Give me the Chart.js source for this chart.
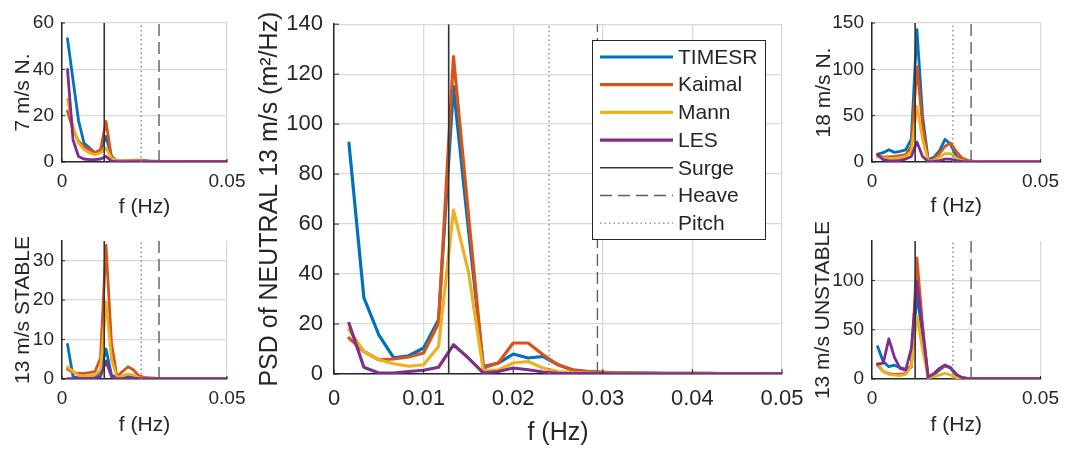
<!DOCTYPE html>
<html><head><meta charset="utf-8">
<script src="https://cdn.jsdelivr.net/npm/chart.js@4/dist/chart.umd.min.js"></script>
<style>
html,body{margin:0;padding:0;background:#fff;}
#wrap{position:relative;width:1067px;height:449px;overflow:hidden;background:#fff;}
canvas{position:absolute;left:0;top:0;}
</style></head><body>
<div id="wrap">
<canvas id="cTL" width="1067" height="449"></canvas>
<canvas id="cBL" width="1067" height="449"></canvas>
<canvas id="cTR" width="1067" height="449"></canvas>
<canvas id="cBR" width="1067" height="449"></canvas>
<canvas id="cMain" width="1067" height="449"></canvas>
</div>
<script>
// ---- data ----
const freq = [0.001667, 0.003333, 0.005, 0.006667, 0.008333, 0.01, 0.011667, 0.013333, 0.015, 0.016667,
  0.018333, 0.02, 0.021667, 0.023333, 0.025, 0.026667, 0.028333, 0.03, 0.031667, 0.033333,
  0.035, 0.036667, 0.038333, 0.04, 0.041667, 0.043333, 0.045, 0.046667, 0.048333, 0.05];
const seriesNames = ['TIMESR', 'Kaimal', 'Mann', 'LES'];
const seriesColors = ['#0072BD', '#D95319', '#EDB120', '#7E2F8E'];
const refNames = ['Surge', 'Heave', 'Pitch'];
const refFreqs = [0.0128, 0.0294, 0.024];

// NEUTRAL 13 m/s (main)
const neuTIMESR = [92.4, 30.6, 15.7, 6.5, 7.3, 10.4, 21.7, 115, 58, 3.0, 4.4, 8.0, 6.4, 7.0, 3.7, 1.7, 1.0, 0.7, 0.5, 0.4, 0.35, 0.3, 0.3, 0.25, 0.25, 0.2, 0.2, 0.2, 0.2, 0.2];
const neuKaimal = [14.4, 9.0, 5.7, 6.0, 6.8, 8.4, 20.3, 127, 64, 2.4, 4.4, 12.4, 12.4, 7.7, 3.7, 1.5, 1.0, 0.7, 0.5, 0.4, 0.35, 0.3, 0.3, 0.25, 0.25, 0.2, 0.2, 0.2, 0.2, 0.2];
const neuMann = [17.7, 9.0, 5.7, 4.1, 3.1, 3.7, 11.0, 65.6, 41, 1.3, 1.6, 4.4, 5.0, 2.4, 1.0, 0.6, 0.4, 0.3, 0.3, 0.2, 0.2, 0.2, 0.15, 0.15, 0.15, 0.15, 0.1, 0.1, 0.1, 0.1];
const neuLES = [20.3, 2.7, 0.4, 0.4, 1.0, 1.5, 2.7, 11.7, 6.4, 0.4, 1.0, 2.4, 1.7, 0.8, 0.3, 0.2, 0.2, 0.15, 0.1, 0.1, 0.1, 0.1, 0.1, 0.1, 0.1, 0.1, 0.1, 0.1, 0.1, 0.1];

// 7 m/s N.
const n7TIMESR = [53.2, 35.5, 18.0, 8.2, 6.0, 4.0, 5.0, 11.0, 2.4, 0.4, 0.4, 0.4, 0.35, 0.3, 0.3, 0.3, 0.3, 0.25, 0.25, 0.2, 0.2, 0.2, 0.2, 0.2, 0.2, 0.2, 0.2, 0.2, 0.2, 0.2];
const n7Kaimal = [22.0, 14.0, 9.0, 6.7, 5.3, 4.1, 5.3, 17.5, 2.0, 0.5, 0.5, 0.6, 0.7, 0.8, 0.7, 0.5, 0.4, 0.3, 0.3, 0.25, 0.25, 0.2, 0.2, 0.2, 0.2, 0.2, 0.2, 0.2, 0.2, 0.2];
const n7Mann = [27.0, 15.4, 8.2, 5.3, 3.9, 3.2, 3.9, 6.0, 1.7, 0.4, 0.4, 0.5, 0.5, 0.5, 0.4, 0.3, 0.3, 0.2, 0.2, 0.2, 0.2, 0.2, 0.2, 0.2, 0.2, 0.2, 0.2, 0.2, 0.2, 0.2];
const n7LES = [40.0, 9.6, 2.4, 1.3, 1.0, 1.0, 1.3, 2.4, 0.4, 0.2, 0.2, 0.2, 0.2, 0.2, 0.2, 0.2, 0.2, 0.2, 0.2, 0.2, 0.2, 0.2, 0.2, 0.2, 0.2, 0.2, 0.2, 0.2, 0.2, 0.2];

// 13 m/s STABLE
const stTIMESR = [8.8, 0.6, 0.3, 0.3, 0.3, 0.4, 1.9, 7.6, 1.0, 0.3, 0.5, 0.6, 0.5, 0.3, 0.2, 0.1, 0.1, 0.1, 0.1, 0.1, 0.1, 0.1, 0.1, 0.1, 0.1, 0.1, 0.1, 0.1, 0.1, 0.1];
const stKaimal = [2.5, 1.6, 1.4, 1.4, 1.6, 1.9, 5.3, 33.9, 9.0, 0.6, 1.9, 3.1, 2.3, 0.8, 0.4, 0.3, 0.2, 0.15, 0.1, 0.1, 0.1, 0.1, 0.1, 0.1, 0.1, 0.1, 0.1, 0.1, 0.1, 0.1];
const stMann = [3.1, 1.9, 1.0, 0.8, 0.8, 1.0, 2.3, 19.5, 5.0, 0.4, 0.8, 1.3, 1.0, 0.3, 0.2, 0.15, 0.1, 0.1, 0.1, 0.1, 0.1, 0.1, 0.1, 0.1, 0.1, 0.1, 0.1, 0.1, 0.1, 0.1];
const stLES = [0.1, 0.1, 0.1, 0.1, 0.1, 0.1, 0.6, 4.6, 0.6, 0.1, 0.1, 0.2, 0.2, 0.1, 0.1, 0.1, 0.1, 0.1, 0.1, 0.1, 0.1, 0.1, 0.1, 0.1, 0.1, 0.1, 0.1, 0.1, 0.1, 0.1];

// 18 m/s N.
const n18TIMESR = [8.6, 10.0, 13.3, 10.4, 11.5, 13.0, 25.0, 142.8, 50.0, 2.5, 5.0, 12.0, 24.5, 19.0, 6.0, 2.5, 1.1, 0.6, 0.5, 0.4, 0.4, 0.3, 0.3, 0.3, 0.3, 0.3, 0.3, 0.3, 0.3, 0.3];
const n18Kaimal = [6.0, 5.4, 5.4, 6.0, 6.8, 8.0, 17.0, 102.5, 40.0, 1.1, 3.2, 9.0, 17.0, 20.5, 11.5, 4.3, 1.8, 0.9, 0.5, 0.4, 0.4, 0.3, 0.3, 0.3, 0.3, 0.3, 0.3, 0.3, 0.3, 0.3];
const n18Mann = [5.4, 4.3, 4.0, 4.0, 4.7, 6.0, 11.5, 60.0, 25.0, 0.7, 1.8, 5.4, 9.0, 9.0, 4.3, 1.4, 0.5, 0.3, 0.3, 0.2, 0.2, 0.2, 0.2, 0.2, 0.2, 0.2, 0.2, 0.2, 0.2, 0.2];
const n18LES = [7.9, 2.5, 1.1, 1.1, 1.8, 3.2, 6.0, 21.5, 6.0, 0.4, 0.7, 1.4, 3.2, 3.2, 1.4, 0.7, 0.3, 0.2, 0.2, 0.2, 0.2, 0.2, 0.2, 0.2, 0.2, 0.2, 0.2, 0.2, 0.2, 0.2];

// 13 m/s UNSTABLE
const unTIMESR = [32.9, 17.6, 12.5, 14.0, 11.5, 10.0, 12.0, 85.0, 45.0, 1.4, 4.0, 9.0, 13.5, 10.8, 4.0, 1.4, 0.7, 0.4, 0.3, 0.3, 0.3, 0.3, 0.3, 0.3, 0.3, 0.3, 0.3, 0.3, 0.3, 0.3];
const unKaimal = [14.2, 7.5, 5.4, 4.7, 4.7, 5.8, 14.2, 122.8, 55.0, 1.4, 4.7, 10.2, 13.5, 11.5, 4.7, 1.4, 0.7, 0.4, 0.3, 0.3, 0.3, 0.3, 0.3, 0.3, 0.3, 0.3, 0.3, 0.3, 0.3, 0.3];
const unMann = [16.0, 7.5, 4.7, 4.0, 3.4, 4.7, 12.5, 63.4, 30.0, 1.4, 2.4, 4.0, 5.8, 4.0, 1.4, 0.5, 0.3, 0.2, 0.2, 0.2, 0.2, 0.2, 0.2, 0.2, 0.2, 0.2, 0.2, 0.2, 0.2, 0.2];
const unLES = [15.0, 16.0, 40.7, 22.0, 10.8, 9.0, 31.0, 99.0, 50.0, 2.0, 5.4, 10.8, 14.2, 11.5, 4.7, 1.4, 0.5, 0.3, 0.3, 0.3, 0.3, 0.3, 0.3, 0.3, 0.3, 0.3, 0.3, 0.3, 0.3, 0.3];

// tick labels
const xTicksMain = [0, 0.01, 0.02, 0.03, 0.04, 0.05];
const xTicksSmall = [0, 0.05];
const yTicksMain = [0, 20, 40, 60, 80, 100, 120, 140];
const yTicksN7 = [0, 20, 40, 60];
const yTicksSt = [0, 10, 20, 30];
const yTicksN18 = [0, 50, 100, 150];
const yTicksUn = [0, 50, 100];

// ---- styling ----
const W = 1067, H = 449;
const FONT = "'Liberation Sans', Arial, Helvetica, sans-serif";
const TXT = '#262626';
const GRID = '#d9d9d9';
const refStyles = [
  { color: '#333333', width: 1.6, dash: [] },
  { color: '#5e5e5e', width: 1.4, dash: [12, 6] },
  { color: '#808080', width: 1.3, dash: [1.5, 3] }
];

const tickMarkPlugin = {
  id: 'tickMarks',
  afterDraw(chart) {
    const ctx = chart.ctx, a = chart.chartArea;
    const len = chart.options.plugins.tickMarks.len;
    ctx.save();
    ctx.strokeStyle = TXT; ctx.lineWidth = 1;
    const xs = chart.scales.x, ys = chart.scales.y;
    xs.ticks.forEach(t => {
      const px = xs.getPixelForValue(t.value);
      ctx.beginPath(); ctx.moveTo(px, a.bottom); ctx.lineTo(px, a.bottom - len); ctx.stroke();
    });
    ys.ticks.forEach(t => {
      const py = ys.getPixelForValue(t.value);
      ctx.beginPath(); ctx.moveTo(a.left, py); ctx.lineTo(a.left + len, py); ctx.stroke();
    });
    ctx.restore();
  }
};

const legendPlugin = {
  id: 'boxLegend',
  afterDatasetsDraw(chart) {
    const o = chart.options.plugins.boxLegend;
    if (!o || !o.show) return;
    const ctx = chart.ctx;
    ctx.save();
    ctx.fillStyle = '#ffffff';
    ctx.fillRect(o.x, o.y, o.w, o.h);
    ctx.strokeStyle = '#262626'; ctx.lineWidth = 1;
    ctx.strokeRect(o.x + 0.5, o.y + 0.5, o.w, o.h);
    const items = [];
    seriesNames.forEach((n, i) => items.push({ text: n, color: seriesColors[i], width: 3.2, dash: [] }));
    refNames.forEach((n, i) => items.push({ text: n, color: refStyles[i].color, width: refStyles[i].width, dash: refStyles[i].dash }));
    ctx.font = o.fontSize + 'px ' + FONT;
    ctx.textBaseline = 'middle';
    ctx.textAlign = 'left';
    items.forEach((it, i) => {
      const y = o.firstY + i * o.rowH;
      ctx.beginPath();
      ctx.setLineDash(it.dash);
      ctx.strokeStyle = it.color; ctx.lineWidth = it.width;
      ctx.moveTo(o.lineX0, y); ctx.lineTo(o.lineX1, y); ctx.stroke();
      ctx.setLineDash([]);
      ctx.fillStyle = TXT;
      ctx.fillText(it.text, o.textX, y + 1);
    });
    ctx.restore();
  }
};

function fmtX(v) { return v === 0 ? '0' : v.toFixed(2); }

function panel(id, cfg) {
  const a = cfg.area;
  const tLH = cfg.titleSize * 1.2;
  const padLeft = cfg.yTitleCx - tLH / 2;
  const datasets = [];
  cfg.series.forEach((vals, i) => {
    datasets.push({
      label: seriesNames[i],
      data: freq.map((f, j) => ({ x: f, y: vals[j] })),
      borderColor: seriesColors[i], backgroundColor: seriesColors[i],
      borderWidth: cfg.lw, pointRadius: 0, tension: 0, order: 4 - i,
      borderJoinStyle: 'round', borderCapStyle: 'round'
    });
  });
  refFreqs.forEach((f, i) => {
    datasets.push({
      label: refNames[i],
      data: [{ x: f, y: 0 }, { x: f, y: cfg.yMax }],
      borderColor: refStyles[i].color, borderWidth: refStyles[i].width,
      borderDash: refStyles[i].dash, pointRadius: 0, order: -1
    });
  });
  return new Chart(document.getElementById(id), {
    type: 'line',
    data: { datasets },
    plugins: [tickMarkPlugin, legendPlugin],
    options: {
      responsive: false, animation: false, devicePixelRatio: 1,
      events: [],
      layout: { padding: { left: padLeft, top: a.t, right: W - a.r, bottom: 0 } },
      plugins: {
        legend: { display: false }, tooltip: { enabled: false },
        tickMarks: { len: cfg.tickLen },
        boxLegend: cfg.legend || { show: false }
      },
      scales: {
        x: {
          type: 'linear', min: 0, max: 0.05,
          afterBuildTicks: s => { s.ticks = cfg.xTicks.map(v => ({ value: v })); },
          afterFit: s => { s.height = H - a.b; },
          grid: { color: GRID, lineWidth: 1.3, drawTicks: false },
          border: { display: true, color: TXT, width: 1.5 },
          ticks: { color: TXT, font: { family: FONT, size: cfg.tickSize }, padding: cfg.xTickPad,
                   maxRotation: 0, autoSkip: false, callback: v => fmtX(v) },
          title: { display: true, text: 'f (Hz)', color: TXT, font: { family: FONT, size: cfg.titleSize },
                   padding: { top: 0, bottom: H - cfg.xTitleCy - tLH / 2 } }
        },
        y: {
          type: 'linear', min: 0, max: cfg.yMax,
          afterBuildTicks: s => { s.ticks = cfg.yTicks.map(v => ({ value: v })); },
          afterFit: s => { s.width = a.l - padLeft; },
          grid: { color: GRID, lineWidth: 1.3, drawTicks: false },
          border: { display: true, color: TXT, width: 1.5 },
          ticks: { color: TXT, font: { family: FONT, size: cfg.tickSize }, padding: cfg.yTickPad,
                   autoSkip: false, callback: v => String(v) },
          title: { display: true, text: cfg.yTitle, color: TXT, font: { family: FONT, size: cfg.titleSize },
                   padding: { top: 0, bottom: 0 } }
        }
      }
    }
  });
}

const small = { tickSize: 19, titleSize: 21, lw: 2.8, tickLen: 3, xTickPad: 8, yTickPad: 8, xTicks: xTicksSmall };

panel('cTL', Object.assign({}, small, {
  area: { l: 62, t: 23, r: 227, b: 162 }, yMax: 60, yTicks: yTicksN7,
  yTitle: '7 m/s N.', yTitleCx: 23, xTitleCy: 207,
  series: [n7TIMESR, n7Kaimal, n7Mann, n7LES]
}));
panel('cBL', Object.assign({}, small, {
  area: { l: 62, t: 241, r: 227, b: 379 }, yMax: 35, yTicks: yTicksSt,
  yTitle: '13 m/s STABLE', yTitleCx: 23, xTitleCy: 425,
  series: [stTIMESR, stKaimal, stMann, stLES]
}));
panel('cTR', Object.assign({}, small, {
  area: { l: 872, t: 23, r: 1047, b: 162 }, yMax: 150, yTicks: yTicksN18,
  yTitle: '18 m/s N.', yTitleCx: 824, xTitleCy: 206,
  series: [n18TIMESR, n18Kaimal, n18Mann, n18LES]
}));
panel('cBR', Object.assign({}, small, {
  area: { l: 872, t: 241, r: 1047, b: 379 }, yMax: 140, yTicks: yTicksUn,
  yTitle: '13 m/s UNSTABLE', yTitleCx: 823, xTitleCy: 425,
  series: [unTIMESR, unKaimal, unMann, unLES]
}));
panel('cMain', {
  tickSize: 22, titleSize: 25, lw: 3.2, tickLen: 5, xTickPad: 12, yTickPad: 11, xTicks: xTicksMain,
  area: { l: 334, t: 23, r: 782, b: 374 }, yMax: 140, yTicks: yTicksMain,
  yTitle: 'PSD of NEUTRAL 13 m/s (m²/Hz)', yTitleCx: 270, xTitleCy: 433,
  series: [neuTIMESR, neuKaimal, neuMann, neuLES],
  legend: { show: true, x: 592, y: 40, w: 173, h: 199, fontSize: 21,
            firstY: 57, rowH: 27.7, lineX0: 600, lineX1: 673, textX: 678 }
});
</script>
</body></html>
